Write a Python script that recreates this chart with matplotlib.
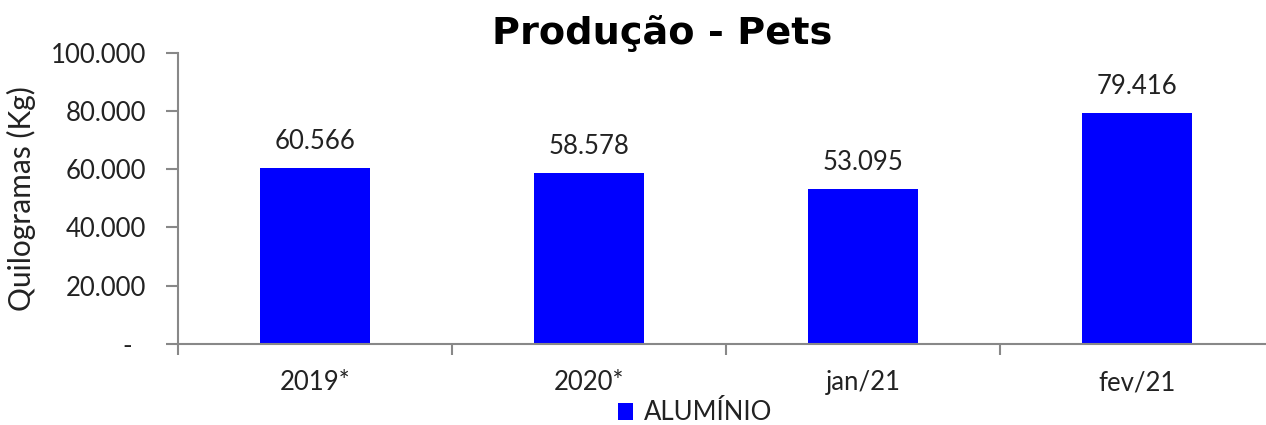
import numpy as np
import matplotlib.pyplot as plt
from matplotlib.ticker import FuncFormatter, FixedLocator

categories = ['2019*', '2020*', 'jan/21', 'fev/21']
aluminio = [60566, 58578, 53095, 79416]
y_ticks = [0, 20000, 40000, 60000, 80000, 100000]


def fmt_br(v, pos=None):
    if v == 0:
        return '-  '
    return '{:,.0f}'.format(v).replace(',', '.')


plt.rcParams['font.family'] = ['Lato', 'DejaVu Sans']
fig = plt.figure(figsize=(12.66, 4.25), dpi=100)
W, H = 1266, 425
ax = fig.add_axes([178 / W, 1 - 344 / H, (1274 - 178) / W, (344 - 52.7) / H])

fs = 18.5
x = np.arange(len(categories))
bars = ax.bar(x, aluminio, width=0.4, color='#0000FF', label='ALUMÍNIO', zorder=2)
for xi, v in zip(x, aluminio):
    ax.annotate(fmt_br(v), (xi, v), xytext=(0, 10), textcoords='offset points',
                ha='center', va='bottom', fontsize=fs, color='#222222')

ax.set_xlim(-0.5, len(categories) - 0.5)
ax.set_ylim(0, 100000)
ax.set_yticks(y_ticks)
ax.yaxis.set_major_formatter(FuncFormatter(fmt_br))
ax.set_xticks(x)
ax.set_xticklabels(categories)
ax.xaxis.set_minor_locator(FixedLocator(np.arange(len(categories)) - 0.5))

for s in ['top', 'right']:
    ax.spines[s].set_visible(False)
for s in ['left', 'bottom']:
    ax.spines[s].set_color('#888888')
    ax.spines[s].set_linewidth(1.5)

ax.tick_params(axis='y', length=9, width=1.5, color='#888888', labelsize=fs,
               labelcolor='#222222', pad=14)
ax.tick_params(axis='x', which='major', length=0, labelsize=fs,
               labelcolor='#222222', pad=19)
ax.tick_params(axis='x', which='minor', length=8, width=1.5, color='#888888')

ax.set_ylabel('Quilogramas (Kg)', fontsize=21.5, color='#222222')
ax.yaxis.set_label_coords(-0.130, 0.5)

fig.text(662 / W, 1 - 33 / H, 'Produção - Pets', ha='center', va='center',
         fontsize=27.5, fontweight='bold', family='DejaVu Sans')

leg = fig.legend(handles=[bars], labels=['ALUMÍNIO'], loc='center',
                 bbox_to_anchor=(695 / W, 1 - 413 / H), frameon=False,
                 fontsize=fs, handlelength=0.6, handleheight=0.6,
                 handletextpad=0.4, borderpad=0)
for t in leg.get_texts():
    t.set_color('#222222')

fig.savefig('out.png', dpi=100)
